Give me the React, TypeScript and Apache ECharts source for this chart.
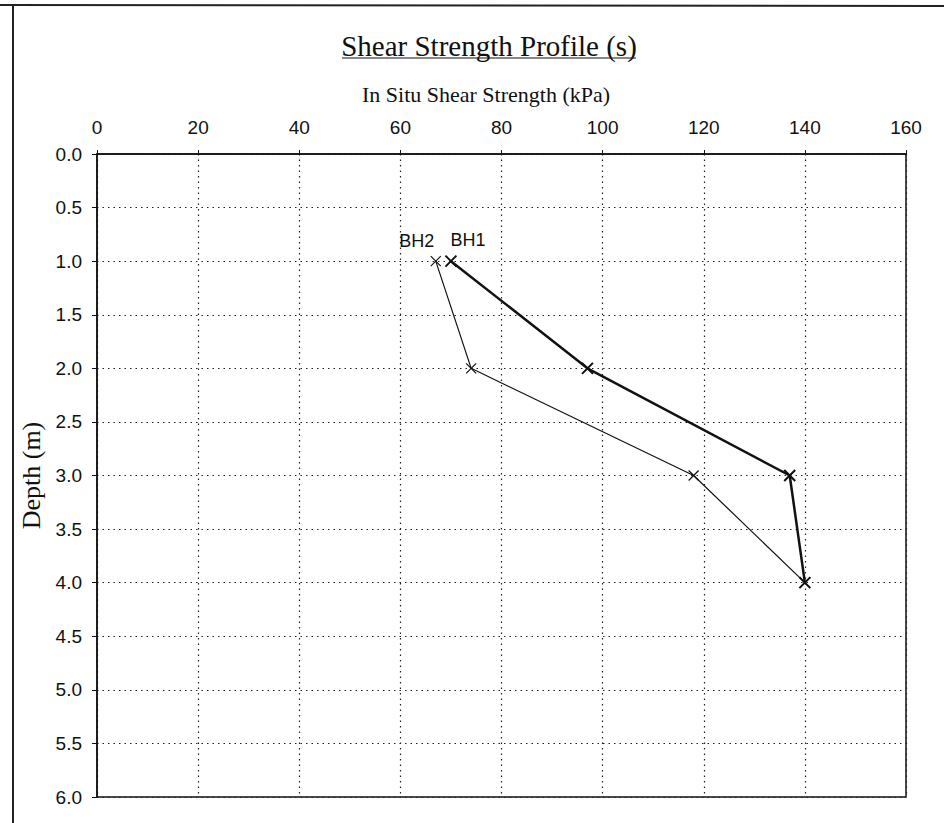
import React, { useEffect, useRef } from "react";
import * as echarts from "echarts";

const seriesNames = ["BH1", "BH2"];
const bh1Strength = [70, 97, 137, 140];
const bh1Depth = [1.0, 2.0, 3.0, 4.0];
const bh2Strength = [67, 74, 118, 140];
const bh2Depth = [1.0, 2.0, 3.0, 4.0];

const CROSS = "path://M0,0L10,10M10,0L0,10";

export default function App() {
  const ref = useRef<HTMLDivElement>(null);
  useEffect(() => {
    if (!ref.current) return;
    const chart = echarts.init(ref.current, null, { renderer: "svg" });
    const mk = (xs: number[], ys: number[], labelOffset: number) =>
      xs.map((x, i) =>
        i === 0
          ? {
              value: [x, ys[i]],
              label: {
                show: true,
                position: "top",
                distance: 6,
                offset: [labelOffset, 0],
                formatter: "{a}",
                fontFamily: "Liberation Sans",
                fontSize: 18,
                color: "#111",
              },
            }
          : { value: [x, ys[i]] }
      );
    chart.setOption({
      animation: false,
      backgroundColor: "#fff",
      grid: {
        left: 97,
        top: 154,
        right: 38,
        bottom: 26,
        show: true,
        borderColor: "#111",
        borderWidth: 1.5,
      },
      xAxis: {
        type: "value",
        position: "top",
        min: 0,
        max: 160,
        interval: 20,
        axisLine: { show: true, lineStyle: { color: "#111", width: 1.5 } },
        axisTick: { show: true, inside: false, length: 4, lineStyle: { color: "#111" } },
        axisLabel: {
          margin: 17,
          fontFamily: "Liberation Sans",
          fontSize: 19,
          color: "#111",
        },
        splitLine: { show: true, lineStyle: { color: "#222", type: [1.5, 4], width: 1.2 } },
      },
      yAxis: {
        type: "value",
        inverse: true,
        min: 0,
        max: 6,
        interval: 0.5,
        name: "Depth (m)",
        nameLocation: "middle",
        nameGap: 42,
        nameTextStyle: { fontFamily: "Liberation Serif", fontSize: 26, color: "#111" },
        axisLine: { show: true, lineStyle: { color: "#111", width: 1.5 } },
        axisTick: { show: true, inside: false, length: 5, lineStyle: { color: "#111" } },
        axisLabel: {
          margin: 15,
          fontFamily: "Liberation Sans",
          fontSize: 19,
          color: "#111",
          formatter: (v: number) => v.toFixed(1),
        },
        splitLine: { show: true, lineStyle: { color: "#222", type: [1.5, 4], width: 1.2 } },
      },
      graphic: [
        {
          type: "line",
          shape: { x1: 0, y1: 5, x2: 944, y2: 6 },
          style: { stroke: "#222", lineWidth: 2 },
        },
        {
          type: "line",
          shape: { x1: 13, y1: 5, x2: 13, y2: 823 },
          style: { stroke: "#222", lineWidth: 2 },
        },
        {
          type: "text",
          x: 489,
          y: 46,
          style: {
            text: "Shear Strength Profile (s)",
            fontFamily: "Liberation Serif",
            fontSize: 29,
            fill: "#111",
            textAlign: "center",
            textVerticalAlign: "middle",
          },
        },
        {
          type: "line",
          shape: { x1: 342, y1: 58, x2: 636, y2: 58 },
          style: { stroke: "#111", lineWidth: 1.2 },
        },
        {
          type: "text",
          x: 486,
          y: 94,
          style: {
            text: "In Situ Shear Strength (kPa)",
            fontFamily: "Liberation Serif",
            fontSize: 22,
            fill: "#111",
            textAlign: "center",
            textVerticalAlign: "middle",
          },
        },
      ],
      series: [
        {
          name: seriesNames[0],
          type: "line",
          data: mk(bh1Strength, bh1Depth, 17),
          symbol: CROSS,
          symbolSize: 11,
          lineStyle: { color: "#111", width: 2.5 },
          itemStyle: { color: "rgba(0,0,0,0)", borderColor: "#111", borderWidth: 2 },
          z: 3,
        },
        {
          name: seriesNames[1],
          type: "line",
          data: mk(bh2Strength, bh2Depth, -19),
          symbol: CROSS,
          symbolSize: 10,
          lineStyle: { color: "#111", width: 1.2 },
          itemStyle: { color: "rgba(0,0,0,0)", borderColor: "#111", borderWidth: 1.2 },
          z: 2,
        },
      ],
    });
    return () => chart.dispose();
  }, []);
  return (
    <div
      ref={ref}
      style={{ position: "absolute", left: 0, top: 0, width: 944, height: 823 }}
    />
  );
}
